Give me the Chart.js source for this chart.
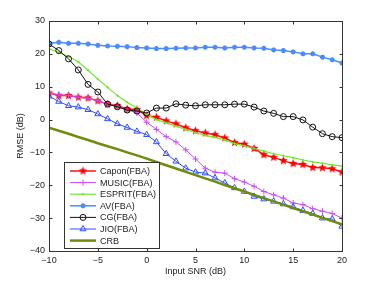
<!DOCTYPE html>
<html>
<head>
<meta charset="utf-8">
<script src="https://cdn.jsdelivr.net/npm/chart.js@4/dist/chart.umd.min.js"></script>
<style>
body { margin: 0; background: #fff; }
#wrap { width: 377px; height: 283px; }
</style>
</head>
<body>
<div id="wrap"><canvas id="chart"></canvas></div>
<script>
// Data
const snr = [-10, -9, -8, -7, -6, -5, -4, -3, -2, -1, 0, 1, 2, 3, 4, 5, 6, 7, 8, 9, 10,
             11, 12, 13, 14, 15, 16, 17, 18, 19, 20];
const capon  = [8.1, 7.3, 7.3, 6.8, 6.6, 5.7, 4.7, 4.2, 3.2, 3.0, 1.2, 0.7, -0.4, -1.3, -2.5, -3.4,
                -4.1, -4.6, -5.6, -7.0, -7.5, -8.8, -10.7, -11.5, -12.5, -13.4, -13.7, -14.6, -14.7, -15.0, -16.0];
const music  = [8.1, 7.5, 7.3, 6.8, 6.5, 5.7, 4.8, 4.0, 3.0, 2.0, -0.8, -3.0, -5.2, -6.8, -9.2, -12.0,
                -14.8, -16.0, -16.3, -18.0, -19.0, -20.3, -21.9, -22.9, -23.9, -25.4, -25.9, -27.1, -27.9, -28.6, -30.0];
const esprit = [21.6, 20.4, 19.2, 17.6, 15.0, 12.3, 9.8, 7.3, 5.3, 3.5, 1.5, 0.0, -1.0, -2.0, -3.0, -4.0,
                -4.8, -5.4, -6.2, -7.3, -8.0, -8.8, -9.6, -10.4, -11.0, -11.6, -12.3, -12.9, -13.3, -13.8, -14.2];
const av     = [23.2, 23.5, 23.2, 23.2, 23.0, 22.6, 22.4, 22.3, 22.2, 21.9, 21.8, 21.6, 21.6, 21.7, 21.8, 21.8,
                22.0, 22.0, 21.8, 22.0, 22.0, 21.8, 21.7, 21.2, 21.0, 20.6, 20.0, 20.0, 19.0, 18.2, 17.2];
const cg     = [23.0, 21.0, 18.5, 15.1, 10.7, 8.4, 4.7, 3.9, 2.9, 2.6, 2.0, 3.5, 3.5, 4.8, 4.4, 4.2,
                4.5, 4.5, 4.5, 4.7, 4.7, 3.8, 2.6, 1.9, 0.9, 0.9, -0.1, -2.3, -4.3, -5.2, -5.5];
const jio    = [7.1, 5.5, 4.2, 3.8, 3.0, 1.7, 0.2, -1.3, -2.4, -3.6, -4.6, -6.8, -10.4, -12.7, -14.8, -16.0,
                -16.3, -17.8, -19.3, -20.8, -21.9, -23.4, -24.2, -24.9, -25.7, -26.6, -27.7, -28.6, -30.0, -30.3, -32.5];
const crb    = [-2.5, -3.4, -4.3, -5.3, -6.2, -7.2, -8.1, -9.0, -10.0, -10.9, -11.9, -12.9, -13.9, -14.9, -15.9, -16.9,
                -17.9, -18.9, -19.9, -20.9, -21.9, -22.9, -23.9, -24.9, -25.9, -26.9, -27.9, -28.9, -29.9, -30.9, -31.9];
const labels = ['Capon(FBA)', 'MUSIC(FBA)', 'ESPRIT(FBA)', 'AV(FBA)', 'CG(FBA)', 'JIO(FBA)', 'CRB'];
const xTicks = [-10, -5, 0, 5, 10, 15, 20];
const yTicks = [-40, -30, -20, -10, 0, 10, 20, 30];

const FONT = '"Liberation Sans", Arial, Helvetica, sans-serif';

// filled star marker (Chart.js 'star' is only an asterisk)
function makeStar(color, r) {
    const size = Math.ceil(r * 2 + 2);
    const c = document.createElement('canvas');
    c.width = size; c.height = size;
    const g = c.getContext('2d');
    g.fillStyle = color;
    g.beginPath();
    for (let i = 0; i < 10; i++) {
        const rad = i % 2 === 0 ? r : r * 0.45;
        const a = -Math.PI / 2 + i * Math.PI / 5;
        const px = size / 2 + rad * Math.cos(a);
        const py = size / 2 + rad * Math.sin(a);
        if (i === 0) g.moveTo(px, py); else g.lineTo(px, py);
    }
    g.closePath();
    g.fill();
    return c;
}
const redStar = makeStar('#ff0000', 4.5);

function toPoints(arr) {
    return arr.map((v, i) => ({ x: snr[i], y: v }));
}

const series = [capon, music, esprit, av, cg, jio, crb];
const colors = ['#ff1010', '#c84cf5', '#6ee830', '#4a8cff', '#111111', '#2f4dff', '#6f8c0a'];
const widths = [1.5, 1, 1.2, 1.5, 1, 1, 2.5];
const styles = [redStar, 'cross', 'circle', 'star', 'circle', 'triangle', 'circle'];
const radii = [4, 3, 0.8, 2.5, 3, 3.5, 0];

const datasets = series.map((s, i) => ({
    label: labels[i],
    data: toPoints(s),
    borderColor: colors[i],
    borderWidth: widths[i],
    pointStyle: styles[i],
    pointRadius: radii[i],
    pointBorderWidth: i === 3 ? 1.6 : 1,
    pointBorderColor: colors[i],
    pointBackgroundColor: i === 2 ? colors[i] : 'rgba(0,0,0,0)',
    tension: 0,
    fill: false,
    order: 6 - i
}));

// axes box with inward ticks, MATLAB style
const boxPlugin = {
    id: 'box',
    afterDraw(chart) {
        const { ctx, chartArea: a, scales } = chart;
        ctx.save();
        ctx.strokeStyle = '#333';
        ctx.lineWidth = 1;
        const l = Math.round(a.left) + 0.5, r = Math.round(a.right) + 0.5;
        const t = Math.round(a.top) + 0.5, b = Math.round(a.bottom) + 0.5;
        ctx.strokeRect(l, t, r - l, b - t);
        ctx.beginPath();
        xTicks.forEach(v => {
            const px = Math.round(scales.x.getPixelForValue(v)) + 0.5;
            ctx.moveTo(px, b); ctx.lineTo(px, b - 3);
            ctx.moveTo(px, t); ctx.lineTo(px, t + 3);
        });
        yTicks.forEach(v => {
            const py = Math.round(scales.y.getPixelForValue(v)) + 0.5;
            ctx.moveTo(l, py); ctx.lineTo(l + 3, py);
            ctx.moveTo(r, py); ctx.lineTo(r - 3, py);
        });
        ctx.stroke();
        ctx.restore();
    }
};

// legend inside the axes, lower left
const legendPlugin = {
    id: 'innerLegend',
    afterDraw(chart) {
        const { ctx } = chart;
        const x0 = 64.5, y0 = 162.5, w = 95, h = 86;
        ctx.save();
        ctx.fillStyle = '#fff';
        ctx.fillRect(x0, y0, w, h);
        ctx.strokeStyle = '#333';
        ctx.lineWidth = 1;
        ctx.strokeRect(x0, y0, w, h);
        ctx.font = '9px ' + FONT;
        ctx.textBaseline = 'middle';
        datasets.forEach((ds, i) => {
            const y = 171 + i * 11.6;
            ctx.strokeStyle = ds.borderColor;
            ctx.lineWidth = ds.borderWidth;
            ctx.beginPath();
            ctx.moveTo(70, y); ctx.lineTo(96, y);
            ctx.stroke();
            if (ds.pointRadius > 0) {
                ctx.fillStyle = ds.pointBackgroundColor;
                ctx.strokeStyle = ds.pointBorderColor;
                ctx.lineWidth = ds.pointBorderWidth;
                Chart.helpers.drawPoint(ctx, {
                    pointStyle: ds.pointStyle, rotation: 0,
                    radius: ds.pointRadius, borderWidth: ds.pointBorderWidth
                }, 83, y);
            }
            ctx.fillStyle = '#222';
            ctx.fillText(ds.label, 100, y + 0.5);
        });
        ctx.restore();
    }
};

function minusLabel(v) {
    return v < 0 ? '\u2212' + Math.abs(v) : String(v);
}

new Chart(document.getElementById('chart'), {
    type: 'line',
    data: { datasets: datasets },
    options: {
        responsive: true,
        maintainAspectRatio: false,
        animation: false,
        layout: { padding: { top: 21, right: 35, left: 0, bottom: 0 } },
        plugins: {
            legend: { display: false },
            tooltip: { enabled: false }
        },
        scales: {
            x: {
                type: 'linear',
                min: -10, max: 20,
                grid: { display: false, drawTicks: false },
                border: { display: false },
                afterBuildTicks: s => { s.ticks = xTicks.map(v => ({ value: v })); },
                afterFit: s => { s.height = 32; },
                ticks: {
                    padding: 4, color: '#222', maxRotation: 0,
                    font: { family: FONT, size: 9 },
                    callback: minusLabel
                },
                title: {
                    display: true, text: 'Input SNR (dB)', color: '#222',
                    font: { family: FONT, size: 9 },
                    padding: { top: 6, bottom: 6 }
                }
            },
            y: {
                min: -40, max: 30,
                grid: { display: false, drawTicks: false },
                border: { display: false },
                afterBuildTicks: s => { s.ticks = yTicks.map(v => ({ value: v })); },
                afterFit: s => { s.width = 49; },
                ticks: {
                    padding: 4, color: '#222',
                    font: { family: FONT, size: 9 },
                    callback: minusLabel
                },
                title: {
                    display: true, text: 'RMSE (dB)', color: '#222',
                    font: { family: FONT, size: 9 },
                    padding: { top: 15, bottom: 15 }
                }
            }
        }
    },
    plugins: [boxPlugin, legendPlugin]
});
</script>
</body>
</html>
